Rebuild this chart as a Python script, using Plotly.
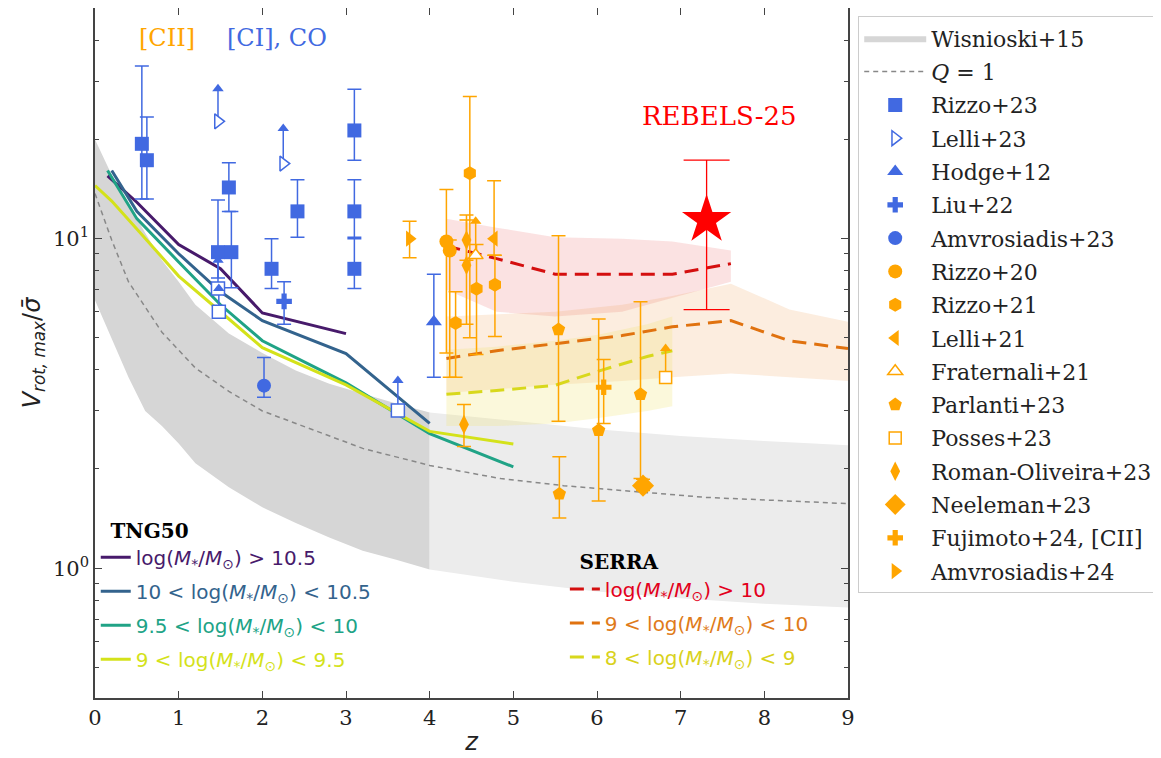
import plotly.graph_objects as go

BLUE = "#4169E1"
ORANGE = "#FFA500"
RED = "#FF0000"

# ---------------- Wisnioski+15 band ----------------
wis_z = [0, 0.2, 0.4, 0.6, 0.8, 1.0, 1.2, 1.6, 2.0, 2.4, 2.8, 3.2, 3.6, 4.0]
wis_hi = [20.0, 15.6, 12.8, 10.4, 8.6, 7.4, 6.3, 5.15, 4.5, 3.98, 3.63, 3.39, 3.16, 2.97]
wis_lo = [6.5, 5.0, 3.8, 3.0, 2.7, 2.39, 2.08, 1.76, 1.53, 1.37, 1.24, 1.13, 1.06, 0.99]
wis_far_z = [4.0, 5.0, 6.0, 7.0, 8.0, 9.0]
wis_far_hi = [2.97, 2.8, 2.64, 2.52, 2.43, 2.36]
wis_far_lo = [0.99, 0.91, 0.85, 0.81, 0.78, 0.76]

# ---------------- Q = 1 ----------------
q1_z = [0, 0.2, 0.4, 0.8, 1.2, 1.6, 2.0, 2.4, 2.8, 3.2, 4.0, 4.85, 5.6, 6.6, 7.3, 9.0]
q1_v = [13.7, 9.9, 7.4, 5.2, 4.05, 3.44, 3.0, 2.75, 2.53, 2.31, 2.05, 1.87, 1.78, 1.70, 1.64, 1.57]

# ---------------- TNG50 ----------------
tng_names = ["log(<i>M</i><sub>*</sub>/<i>M</i><sub>⊙</sub>) > 10.5",
             "10 < log(<i>M</i><sub>*</sub>/<i>M</i><sub>⊙</sub>) < 10.5",
             "9.5 < log(<i>M</i><sub>*</sub>/<i>M</i><sub>⊙</sub>) < 10",
             "9 < log(<i>M</i><sub>*</sub>/<i>M</i><sub>⊙</sub>) < 9.5"]
tng_colors = ["#471a6b", "#33638d", "#20a386", "#d4e21a"]
tng_z = [[0.15, 0.5, 1.0, 1.5, 2.0, 3.0],
         [0.2, 0.5, 1.0, 1.5, 2.0, 3.0, 4.0],
         [0.15, 0.5, 1.0, 1.5, 2.0, 3.0, 4.0, 5.0],
         [0.0, 0.2, 0.5, 1.0, 1.5, 2.0, 3.0, 4.0, 5.0]]
tng_v = [[15.5, 12.9, 9.6, 8.1, 5.95, 5.15],
         [16.1, 12.1, 9.0, 6.9, 5.64, 4.48, 2.75],
         [16.1, 11.5, 8.5, 6.3, 4.9, 3.65, 2.56, 2.03],
         [14.5, 13.0, 10.7, 7.7, 6.0, 4.67, 3.6, 2.6, 2.38]]

# ---------------- SERRA ----------------
serra_names = ["log(<i>M</i><sub>*</sub>/<i>M</i><sub>⊙</sub>) > 10",
               "9 < log(<i>M</i><sub>*</sub>/<i>M</i><sub>⊙</sub>) < 10",
               "8 < log(<i>M</i><sub>*</sub>/<i>M</i><sub>⊙</sub>) < 9"]
serra_line_colors = ["#d40f0f", "#e0720f", "#d8d81c"]
serra_text_colors = ["#e3001b", "#e07b1a", "#d9d21c"]
serra_band_colors = ["rgba(235,110,110,0.20)", "rgba(240,165,95,0.20)", "rgba(240,228,110,0.25)"]
serra_z = [[4.2, 4.8, 5.5, 6.3, 6.9, 7.6],
           [4.2, 4.8, 5.5, 6.3, 6.9, 7.6, 8.3, 9.0],
           [4.2, 4.8, 5.5, 6.0, 6.6, 6.9]]
serra_v = [[9.5, 8.7, 7.8, 7.8, 7.8, 8.4],
           [4.33, 4.57, 4.8, 5.08, 5.4, 5.64, 4.9, 4.64],
           [3.37, 3.46, 3.59, 3.95, 4.39, 4.57]]
serra_hi = [[11.5, 10.8, 10.1, 10.0, 9.8, 9.2],
            [5.8, 5.9, 6.0, 6.3, 6.7, 7.3, 6.1, 5.6],
            [4.6, 4.7, 4.9, 5.1, 5.5, 5.8]]
serra_lo = [[7.0, 6.0, 5.8, 6.0, 6.6, 7.4],
            [3.4, 3.5, 3.6, 3.7, 3.8, 3.9, 3.8, 3.7],
            [2.7, 2.7, 2.75, 2.85, 3.0, 3.1]]

# ---------------- observations ----------------
rizzo23_z = [0.56, 0.62, 1.47, 1.63, 1.60, 2.11, 2.42, 3.10, 3.10, 3.10]
rizzo23_v = [19.4, 17.3, 9.1, 9.1, 14.3, 8.1, 12.1, 21.3, 12.1, 8.1]
rizzo23_hi = [33.4, 23.4, 13.1, 12.1, 17.0, 10.0, 15.1, 28.4, 15.1, 10.0]
rizzo23_lo = [13.2, 13.2, 7.6, 7.1, 12.1, 7.06, 10.1, 17.3, 10.1, 7.06]

lelli23_z = [1.47, 2.25]
lelli23_v = [22.7, 16.9]
lelli23_tip = [28.5, 21.6]

openblue_z = [1.47, 1.48, 3.62]
openblue_v = [7.06, 6.0, 3.01]
openblue_tip = [8.6, 7.06, 3.71]

hodge12_z = [4.05]
hodge12_v = [5.6]
hodge12_hi = [7.8]
hodge12_lo = [3.8]

liu22_z = [2.26]
liu22_v = [6.45]
liu22_hi = [7.4]
liu22_lo = [5.5]

amv23_z = [2.02]
amv23_v = [3.58]
amv23_hi = [4.36]
amv23_lo = [3.3]

rizzo20_z = [4.20, 4.24]
rizzo20_v = [9.8, 9.2]
rizzo20_hi = [14.1, 9.9]
rizzo20_lo = [4.5, 3.8]

rizzo21_z = [4.48, 4.56, 4.78, 4.31]
rizzo21_v = [15.8, 7.05, 7.25, 5.55]
rizzo21_hi = [27.0, 9.6, 8.9, 6.9]
rizzo21_lo = [5.0, 4.45, 5.05, 3.8]

lelli21_z = [4.77]
lelli21_v = [10.0]
lelli21_hi = [15.0]
lelli21_lo = [8.9]

frat21_z = [4.55]
frat21_v = [8.9]
frat21_tip = [11.3]

parl23_z = [5.54, 5.55, 6.02, 6.52]
parl23_v = [5.3, 1.68, 2.62, 3.37]
parl23_hi = [10.2, 2.18, 5.7, 6.44]
parl23_lo = [2.79, 1.42, 1.6, 1.87]

posses23_z = [6.82]
posses23_v = [3.79]
posses23_tip = [4.64]

roman23_z = [4.44, 4.44, 4.41]
roman23_v = [9.9, 8.3, 2.73]
roman23_hi = [11.8, 11.4, 3.14]
roman23_lo = [8.6, 5.5, 2.34]

neel23_z = [6.55]
neel23_v = [1.78]
neel23_hi = [1.86]
neel23_lo = [1.72]

fuji24_z = [6.08]
fuji24_v = [3.54]
fuji24_hi = [4.3]
fuji24_lo = [2.75]

amv24_z = [3.76]
amv24_v = [10.0]
amv24_hi = [11.3]
amv24_lo = [8.75]

rebels_z = [7.31]
rebels_v = [11.4]
rebels_hi = [17.3]
rebels_lo = [6.09]

fig = go.Figure()

# Wisnioski bands
fig.add_trace(go.Scatter(x=wis_z + wis_z[::-1], y=wis_hi + wis_lo[::-1], fill="toself",
                         fillcolor="rgb(214,214,214)", line=dict(width=0), mode="lines",
                         name="Wisnioski+15", legendgroup="wis", legendrank=1, hoverinfo="skip"))
fig.add_trace(go.Scatter(x=wis_far_z + wis_far_z[::-1], y=wis_far_hi + wis_far_lo[::-1], fill="toself",
                         fillcolor="rgb(236,236,236)", line=dict(width=0), mode="lines",
                         showlegend=False, hoverinfo="skip"))
fig.add_trace(go.Scatter(x=q1_z, y=q1_v, mode="lines", line=dict(color="#888888", width=1.5, dash="5px,4px"),
                         name="<i>Q</i> = 1", legendgroup="q1", legendrank=2))

# SERRA bands
for i in range(3):
    fig.add_trace(go.Scatter(x=serra_z[i] + serra_z[i][::-1], y=serra_hi[i] + serra_lo[i][::-1],
                             fill="toself", fillcolor=serra_band_colors[i], line=dict(width=0),
                             mode="lines", showlegend=False, hoverinfo="skip"))

# TNG50 lines
for i in range(4):
    fig.add_trace(go.Scatter(x=tng_z[i], y=tng_v[i], mode="lines", line=dict(color=tng_colors[i], width=3),
                             name=f"<span style='color:{tng_colors[i]}'>{tng_names[i]}</span>",
                             legend="legend2", legendgroup=f"tng{i}", legendrank=i + 1))

# SERRA lines
for i in range(3):
    fig.add_trace(go.Scatter(x=serra_z[i], y=serra_v[i], mode="lines",
                             line=dict(color=serra_line_colors[i], width=3, dash="14px,8px"),
                             name=f"<span style='color:{serra_text_colors[i]}'>{serra_names[i]}</span>",
                             legend="legend3", legendgroup=f"serra{i}", legendrank=i + 1))


def errpts(z, v, hi, lo, name, color, symbol, size, rank, fill=None, show=True, capw=7, thick=1.5):
    fig.add_trace(go.Scatter(
        x=z, y=v, mode="markers", name=name, legendgroup=name, legendrank=rank, showlegend=show,
        marker=dict(symbol=symbol, size=size, color=fill if fill else color,
                    line=dict(color=color, width=1.5 if fill else 0)),
        error_y=dict(type="data", symmetric=False,
                     array=[h - a for h, a in zip(hi, v)],
                     arrayminus=[a - l for a, l in zip(v, lo)],
                     color=color, thickness=thick, width=capw)))


def limits(z, v, tip, name, color, symbol, size, rank, fill="white", show=True):
    fig.add_trace(go.Scatter(
        x=z, y=v, mode="markers", name=name, legendgroup=name, legendrank=rank, showlegend=show,
        marker=dict(symbol=symbol, size=size, color=fill, line=dict(color=color, width=1.5)),
        error_y=dict(type="data", symmetric=False,
                     array=[t - a for t, a in zip(tip, v)], arrayminus=[0] * len(v),
                     color=color, thickness=1.5, width=0)))
    fig.add_trace(go.Scatter(x=z, y=tip, mode="markers", showlegend=False, hoverinfo="skip",
                             marker=dict(symbol="triangle-up", size=10, color=color)))


errpts(rizzo23_z, rizzo23_v, rizzo23_hi, rizzo23_lo, "Rizzo+23", BLUE, "square", 14, 3)
limits(lelli23_z, lelli23_v, lelli23_tip, "Lelli+23", BLUE, "triangle-right", 13, 4)
limits(openblue_z, openblue_v, openblue_tip, "open_blue", BLUE, "square", 13, 99, show=False)
errpts(hodge12_z, hodge12_v, hodge12_hi, hodge12_lo, "Hodge+12", BLUE, "triangle-up", 14, 5)
errpts(liu22_z, liu22_v, liu22_hi, liu22_lo, "Liu+22", BLUE, "cross", 13, 6)
errpts(amv23_z, amv23_v, amv23_hi, amv23_lo, "Amvrosiadis+23", BLUE, "circle", 14, 7)
errpts(rizzo20_z, rizzo20_v, rizzo20_hi, rizzo20_lo, "Rizzo+20", ORANGE, "circle", 14, 8)
errpts(rizzo21_z, rizzo21_v, rizzo21_hi, rizzo21_lo, "Rizzo+21", ORANGE, "hexagon", 14, 9)
errpts(lelli21_z, lelli21_v, lelli21_hi, lelli21_lo, "Lelli+21", ORANGE, "triangle-left", 14, 10)
limits(frat21_z, frat21_v, frat21_tip, "Fraternali+21", ORANGE, "triangle-up", 13, 11)
errpts(parl23_z, parl23_v, parl23_hi, parl23_lo, "Parlanti+23", ORANGE, "pentagon", 14, 12)
limits(posses23_z, posses23_v, posses23_tip, "Posses+23", ORANGE, "square", 12, 13)
errpts(roman23_z, roman23_v, roman23_hi, roman23_lo, "Roman-Oliveira+23", ORANGE, "diamond-tall", 14, 14)
errpts(neel23_z, neel23_v, neel23_hi, neel23_lo, "Neeleman+23", ORANGE, "diamond", 17, 15)
errpts(fuji24_z, fuji24_v, fuji24_hi, fuji24_lo, "Fujimoto+24, [CII]", ORANGE, "cross", 13, 16)
errpts(amv24_z, amv24_v, amv24_hi, amv24_lo, "Amvrosiadis+24", ORANGE, "triangle-right", 14, 17)
errpts(rebels_z, rebels_v, rebels_hi, rebels_lo, "REBELS-25", RED, "star", 37, 18, show=False, capw=23, thick=1.3)

SERIF = "DejaVu Serif"
SANS = "DejaVu Sans"

fig.add_annotation(x=0.0956, y=0.9566, xref="paper", yref="paper", text="[CII]", showarrow=False,
                   xanchor="center", yanchor="middle", font=dict(family=SERIF, size=24, color=ORANGE))
fig.add_annotation(x=0.2417, y=0.9566, xref="paper", yref="paper", text="[CI], CO", showarrow=False,
                   xanchor="center", yanchor="middle", font=dict(family=SERIF, size=24, color=BLUE))
fig.add_annotation(x=0.830, y=0.8437, xref="paper", yref="paper", text="REBELS-25", showarrow=False,
                   xanchor="center", yanchor="middle", font=dict(family=SERIF, size=26, color=RED))

minor_vals = [m * 10 ** e for e in (-1, 0, 1) for m in range(2, 10)]

fig.update_xaxes(range=[0, 9], dtick=1, tick0=0, ticks="inside", ticklen=7, tickwidth=1.2, tickcolor="#444",
                 mirror="ticks", showline=True, linecolor="#444", linewidth=1.5, showgrid=False, zeroline=False,
                 tickfont=dict(family=SERIF, size=21, color="#222"),
                 title=dict(text="<i>z</i>", font=dict(family=SANS, size=24, color="#222"), standoff=4))
fig.update_yaxes(type="log", range=[-0.394, 1.70], tickmode="array", tickvals=[1, 10],
                 ticktext=["10<sup>0</sup>", "10<sup>1</sup>"], ticks="inside", ticklen=7, tickwidth=1.2,
                 tickcolor="#444", mirror="ticks", showline=True, linecolor="#444", linewidth=1.5,
                 showgrid=False, zeroline=False,
                 minor=dict(tickmode="array", tickvals=minor_vals, ticks="inside", ticklen=4, tickcolor="#444",
                            showgrid=False),
                 tickfont=dict(family=SERIF, size=21, color="#222"),
                 title=dict(text="<i>V</i><sub><i>rot, max</i></sub>/<i>σ̄</i>",
                            font=dict(family=SANS, size=24, color="#222"), standoff=6))

fig.update_layout(
    width=1161, height=758, margin=dict(l=87, r=321, t=0, b=68, autoexpand=False),
    paper_bgcolor="white", plot_bgcolor="white", showlegend=True,
    legend=dict(x=1.0133, y=0.988, xanchor="left", yanchor="top", bgcolor="white",
                bordercolor="#cccccc", borderwidth=1.2, tracegroupgap=1.7, itemwidth=62,
                font=dict(family=SERIF, size=22, color="#222"), itemsizing="trace"),
    legend2=dict(x=0.001, y=0.270, xanchor="left", yanchor="top", bgcolor="rgba(0,0,0,0)",
                 tracegroupgap=5, font=dict(family=SANS, size=20),
                 title=dict(text="&nbsp;&nbsp;<b>TNG50</b>", font=dict(family=SERIF, size=20, color="black"))),
    legend3=dict(x=0.624, y=0.224, xanchor="left", yanchor="top", bgcolor="rgba(0,0,0,0)",
                 tracegroupgap=5, font=dict(family=SANS, size=20),
                 title=dict(text="&nbsp;&nbsp;<b>SERRA</b>", font=dict(family=SERIF, size=20, color="black"))),
)

fig.write_html("out.html")
